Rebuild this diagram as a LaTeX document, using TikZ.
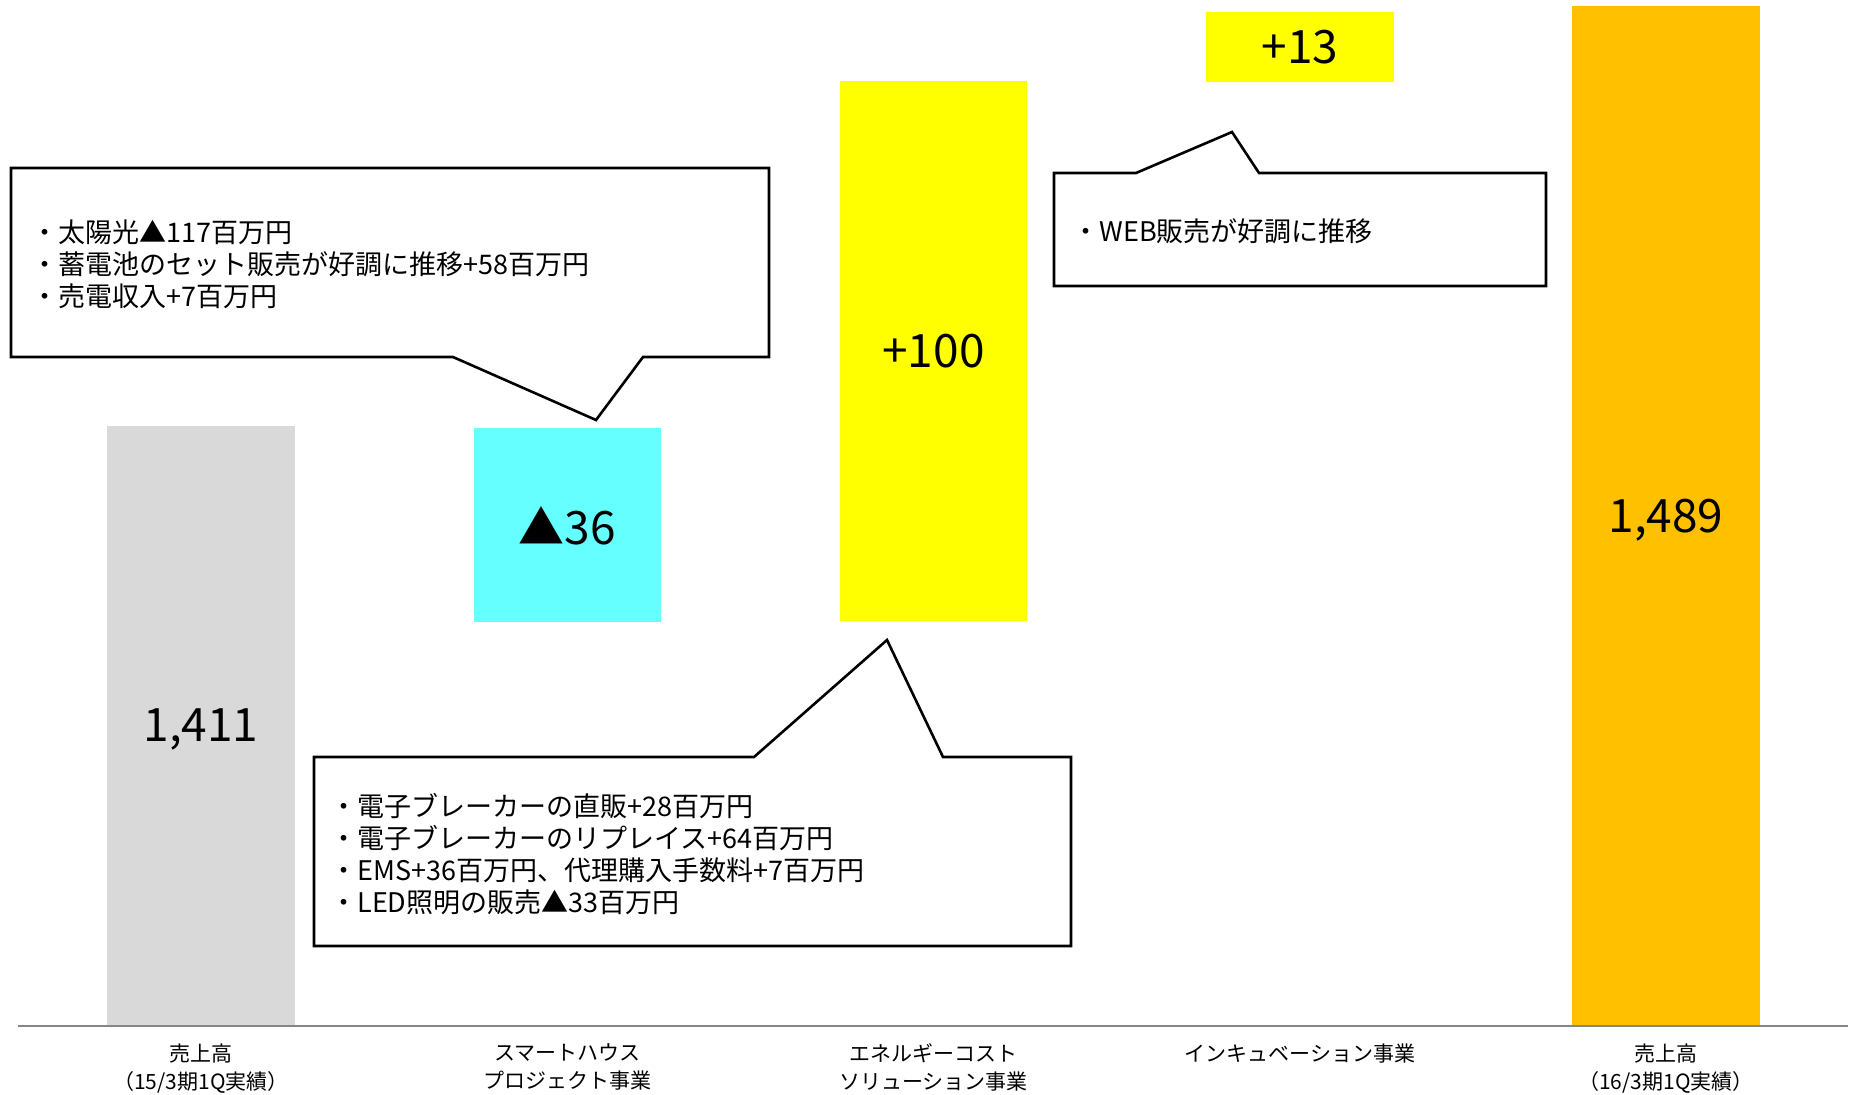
\documentclass[tikz,border=0pt]{standalone}
\usepackage{fontspec}
\setmainfont{Noto Sans CJK JP}
\definecolor{barGray}{HTML}{D9D9D9}
\definecolor{barCyan}{HTML}{66FFFF}
\definecolor{barYellow}{HTML}{FFFF00}
\definecolor{barOrange}{HTML}{FFC000}
\definecolor{axisGray}{HTML}{868686}
\begin{document}
\begin{tikzpicture}[x=0.5pt,y=-0.5pt,
  bar/.style={draw=none, inner sep=0pt, text depth=0pt, minimum width=93.75pt, font=\fontsize{23}{27}\selectfont},
  callout/.style={draw=black, line width=1.3pt, fill=white, line join=miter},
  note/.style={anchor=west, align=left, inner sep=0pt, font=\fontsize{13.5}{16}\selectfont},
  cat/.style={anchor=north, align=center, inner sep=0pt, font=\fontsize{10.5}{14}\selectfont},
  axis/.style={draw=axisGray, line width=1pt}]
\useasboundingbox (0,0) rectangle (1852,1094);

% bars
\node[bar, fill=barGray,   minimum height=299.5pt] (b1) at (201,725.5) {1,411};
\node[bar, fill=barCyan,   minimum height=97pt]    (b2) at (567.5,525) {▲36};
\node[bar, fill=barYellow, minimum height=270pt]   (b3) at (933.5,351) {+100};
\node[bar, fill=barYellow, minimum height=35pt]    (b4) at (1300,47) {+13};
\node[bar, fill=barOrange, minimum height=509.5pt] (b5) at (1666,515.5) {1,489};

% axis
\coordinate (ax1) at (18,1026);
\coordinate (ax2) at (1848,1026);
\draw[axis] (ax1) -- (ax2);

% category labels
\node[cat] (c1) at (201,1043.5)  {売上高\\（15/3期1Q実績）};
\node[cat] (c2) at (567.5,1043.5) {スマートハウス\\プロジェクト事業};
\node[cat] (c3) at (933.5,1043.5) {エネルギーコスト\\ソリューション事業};
\node[cat] (c4) at (1300,1043.5) {インキュベーション事業};
\node[cat] (c5) at (1666,1043.5) {売上高\\（16/3期1Q実績）};

% callout 1
\draw[callout] (11,168) -- (769,168) -- (769,357) -- (643,357) -- (596,420)
  -- (453,357) -- (11,357) -- cycle;
\node[note] (n1) at (31,264.5) {・太陽光▲117百万円\\・蓄電池のセット販売が好調に推移+58百万円\\・売電収入+7百万円};

% callout 2
\draw[callout] (314,757) -- (754,757) -- (887,640) -- (943,757) -- (1071,757)
  -- (1071,946) -- (314,946) -- cycle;
\node[note] (n2) at (330,854) {・電子ブレーカーの直販+28百万円\\・電子ブレーカーのリプレイス+64百万円\\・EMS+36百万円、代理購入手数料+7百万円\\・LED照明の販売▲33百万円};

% callout 3
\draw[callout] (1054,173) -- (1136,173) -- (1232,132) -- (1259,173) -- (1546,173)
  -- (1546,286) -- (1054,286) -- cycle;
\node[note] (n3) at (1072,231.5) {・WEB販売が好調に推移};
\end{tikzpicture}
\end{document}
